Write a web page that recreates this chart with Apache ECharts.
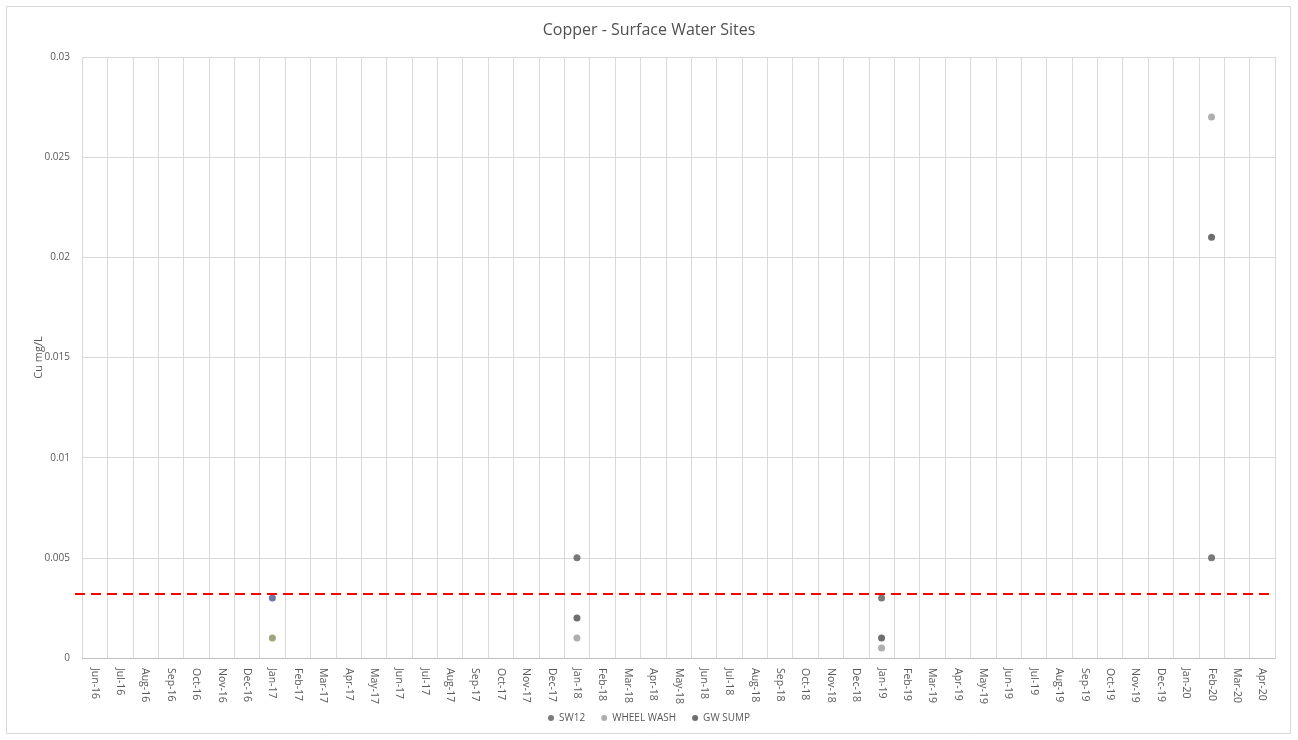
<!DOCTYPE html>
<html>
<head>
<meta charset="utf-8">
<script src="https://cdn.jsdelivr.net/npm/echarts@6/dist/echarts.min.js"></script>
<style>html,body{margin:0;padding:0;background:#fff;}#c{width:1298px;height:740px;}</style>
</head>
<body>
<div id="c"></div>
<script>
const months = ['Jun-16','Jul-16','Aug-16','Sep-16','Oct-16','Nov-16','Dec-16','Jan-17','Feb-17','Mar-17','Apr-17','May-17','Jun-17','Jul-17','Aug-17','Sep-17','Oct-17','Nov-17','Dec-17','Jan-18','Feb-18','Mar-18','Apr-18','May-18','Jun-18','Jul-18','Aug-18','Sep-18','Oct-18','Nov-18','Dec-18','Jan-19','Feb-19','Mar-19','Apr-19','May-19','Jun-19','Jul-19','Aug-19','Sep-19','Oct-19','Nov-19','Dec-19','Jan-20','Feb-20','Mar-20','Apr-20'];
const sw12Dates = ['Jan-17','Jan-18','Jan-19','Feb-20'];
const sw12Values = [0.003, 0.005, 0.003, 0.005];
const wheelDates = ['Jan-17','Jan-18','Jan-19','Feb-20'];
const wheelValues = [0.001, 0.001, 0.0005, 0.027];
const sumpDates = ['Jan-18','Jan-19','Feb-20'];
const sumpValues = [0.002, 0.001, 0.021];
const guideline = 0.0032;

const chart = echarts.init(document.getElementById('c'));
function pts(dates, vals, specialColor) {
  return dates.map((d, i) => {
    const item = { value: [d, vals[i]] };
    if (specialColor && d === 'Jan-17') item.itemStyle = { color: specialColor };
    return item;
  });
}
const fontFam = '"Open Sans", "Liberation Sans", sans-serif';
chart.setOption({
  animation: false,
  textStyle: { fontFamily: fontFam },
  title: {
    text: 'Copper - Surface Water Sites',
    left: 'center', top: 17,
    textStyle: { fontSize: 16, fontWeight: 'normal', color: '#505050', fontFamily: fontFam }
  },
  graphic: [{
    type: 'rect', shape: { x: 6.5, y: 6.5, width: 1284, height: 727 },
    style: { fill: 'none', stroke: '#d9d9d9', lineWidth: 1 }, silent: true
  }],
  legend: {
    bottom: 12, left: 'center', icon: 'circle', itemWidth: 6, itemHeight: 6, itemGap: 16,
    textStyle: { fontSize: 10, color: '#595959', fontFamily: fontFam },
    data: ['SW12', 'WHEEL WASH', 'GW SUMP']
  },
  grid: { left: 82, right: 23, top: 57, bottom: 82, containLabel: false },
  xAxis: {
    type: 'category', data: months, boundaryGap: true,
    axisLine: { lineStyle: { color: '#bfbfbf' } },
    axisTick: { show: false },
    axisLabel: { rotate: -90, interval: 0, fontSize: 10.5, color: '#595959', margin: 10 },
    splitLine: { show: true, interval: 0, lineStyle: { color: '#d9d9d9' } }
  },
  yAxis: {
    type: 'value', min: 0, max: 0.03, interval: 0.005,
    name: 'Cu mg/L', nameLocation: 'middle', nameGap: 38, nameMoveOverlap: false,
    nameTextStyle: { fontSize: 11, color: '#595959' },
    axisLine: { show: false }, axisTick: { show: false },
    axisLabel: { fontSize: 10, color: '#595959', margin: 12 },
    splitLine: { lineStyle: { color: '#d9d9d9' } }
  },
  series: [
    {
      name: 'SW12', type: 'scatter', symbolSize: 7,
      itemStyle: { color: '#5a5a5a' },
      data: pts(sw12Dates, sw12Values, '#4a5a8c')
    },
    {
      name: 'WHEEL WASH', type: 'scatter', symbolSize: 7,
      itemStyle: { color: '#9a9a9a' },
      data: pts(wheelDates, wheelValues, '#8a8c5c')
    },
    {
      name: 'GW SUMP', type: 'scatter', symbolSize: 7,
      itemStyle: { color: '#4a4a4a' },
      data: pts(sumpDates, sumpValues)
    },
    {
      name: 'Guideline', type: 'line', data: [], silent: true,
      markLine: {
        silent: true, symbol: 'none', label: { show: false },
        lineStyle: { color: '#ff0000', type: [10, 6], width: 2 },
        data: [[{ x: 75, yAxis: guideline }, { x: 1272, yAxis: guideline }]]
      }
    }
  ]
});
</script>
</body>
</html>
